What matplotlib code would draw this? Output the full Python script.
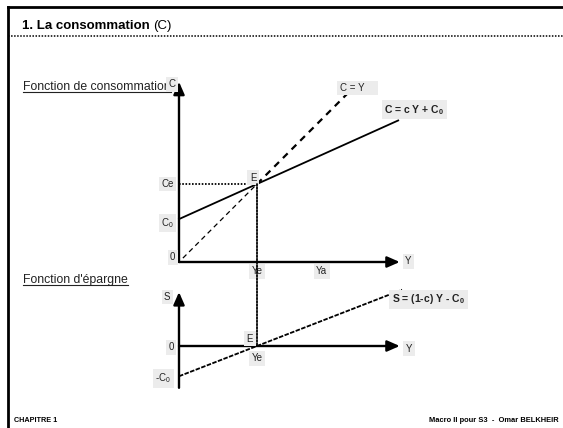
import matplotlib
matplotlib.use('Agg')
import matplotlib.pyplot as plt
from matplotlib.patches import ConnectionPatch

plt.rcParams['font.family'] = ['Liberation Sans', 'DejaVu Sans']
plt.rcParams['mathtext.fontset'] = 'custom'
plt.rcParams['mathtext.rm'] = 'Liberation Sans'
plt.rcParams['mathtext.bf'] = 'Liberation Sans:bold'

# keynesian consumption function
c = 0.45          # propension marginale a consommer
C0 = 55           # consommation autonome
Ye = 100          # revenu d'equilibre
Ya = 183
Ce = c * Ye + C0

y_cons = [0, 281]        # extent of C = cY + C0
y_45_low = [5, Ye]       # C = Y, thin part
y_45_high = [Ye, 217]    # C = Y, heavy part
y_sav = [0, 286]         # extent of S = (1-c)Y - C0
c_axis_top = 231
s_axis = [-76, 98]
y_axis_end = 283

W, H = 563, 428
fig = plt.figure(figsize=(W / 100, H / 100), dpi=100)
bg = fig.add_axes([0, 0, 1, 1])
bg.set_xlim(0, W)
bg.set_ylim(H, 0)
bg.axis('off')

PX = 0.78  # pixels per unit on the Y axis


def overlay(ox, oy, sy):
    ax = fig.add_axes([0, 0, 1, 1], facecolor='none')
    ax.set_xlim(-ox / PX, (W - ox) / PX)
    ax.set_ylim(-(H - oy) / sy, oy / sy)
    ax.axis('off')
    return ax


ax_c = overlay(179, 262, 0.78)
ax_s = overlay(179, 346, 0.55)


def arrow(ax, x0, y0, x1, y1):
    ax.annotate('', xy=(x1, y1), xytext=(x0, y0),
                arrowprops=dict(arrowstyle='-|>,head_length=0.75,head_width=0.33',
                                lw=1.7, color='black', shrinkA=0, shrinkB=0))


def lab(ax, x, y, s, ha='center', bold=False):
    ax.text(x, y, s, ha=ha, va='center', fontsize=7.5 if bold else 7,
            fontweight='bold' if bold else 'normal', color='#222222',
            bbox=dict(boxstyle='square,pad=0.25', fc='#ececec', ec='none'))


# frame of the slide
bg.plot([8, 8], [7, H], color='black', lw=2)
bg.plot([8, W], [7, 7], color='black', lw=2)
bg.plot([8, W], [36, 36], color='black', lw=1.1, ls=(0, (1, 1)))

r = fig.canvas.get_renderer()
t = bg.text(22, 28.5, '1. La consommation', fontsize=9.5, fontweight='bold')
bb = t.get_window_extent(r).transformed(bg.transData.inverted())
bg.text(bb.x1 + 3, 28.5, '(C)', fontsize=9.5)


def underlined(x, y, s):
    t = bg.text(x, y, s, fontsize=8.8, color='#222222')
    bb = t.get_window_extent(r).transformed(bg.transData.inverted())
    bg.plot([bb.x0, bb.x1], [y + 1.5, y + 1.5], color='#222222', lw=0.8)


underlined(23, 90, 'Fonction de consommation')
underlined(23, 283, "Fonction d'épargne")

bg.text(14, 422, 'CHAPITRE 1', fontsize=5.2, fontweight='bold')
bg.text(559, 422, 'Macro II pour S3  -  Omar BELKHEIR', fontsize=5.4,
        fontweight='bold', ha='right')

# --- consumption diagram
arrow(ax_c, 0, 0, 0, c_axis_top)
arrow(ax_c, 0, 0, y_axis_end, 0)
ax_c.plot(y_cons, [c * y + C0 for y in y_cons], color='black', lw=1.3)
ax_c.plot(y_45_low, y_45_low, color='black', lw=0.9, ls=(0, (4, 3)))
ax_c.plot(y_45_high, y_45_high, color='black', lw=1.6, ls=(0, (3, 2.5)))
ax_c.plot([0, Ye], [Ce, Ce], color='black', lw=1.3, ls=(0, (0.9, 0.9)))
fig.add_artist(ConnectionPatch(xyA=(Ye, Ce), coordsA=ax_c.transData,
                               xyB=(Ye, 0), coordsB=ax_s.transData,
                               color='black', lw=1.3, ls=(0, (0.9, 0.9))))

lab(ax_c, -9, 228, 'C')
lab(ax_c, -15, Ce, 'Ce')
lab(ax_c, -15, C0 - 5, r'C$_0$')
lab(ax_c, -8, 6, '0')
lab(ax_c, Ye - 5, Ce + 8, 'E')
lab(ax_c, Ye, -12, 'Ye')
lab(ax_c, Ya, -12, 'Ya')
lab(ax_c, 294, 1, 'Y')
lab(ax_c, 206, 223, 'C = Y    ', ha='left')
lab(ax_c, 263, 195, r'C = c Y + C$_\mathbf{0}$ ', ha='left', bold=True)

# --- savings diagram
arrow(ax_s, 0, s_axis[0], 0, s_axis[1])
arrow(ax_s, 0, 0, y_axis_end, 0)
ax_s.plot(y_sav, [(1 - c) * y - C0 for y in y_sav], color='black', lw=1.3,
          ls=(0, (2.5, 0.8)))

lab(ax_s, -15, 89, 'S')
lab(ax_s, -10, -2, '0')
lab(ax_s, -20, -C0 - 4, r'-C$_0$')
lab(ax_s, Ye - 9, 13, 'E')
lab(ax_s, Ye, -22, 'Ye')
lab(ax_s, 295, -5, 'Y')
lab(ax_s, 273, 85, r'S = (1-c) Y - C$_\mathbf{0}$ ', ha='left', bold=True)

fig.savefig('out.png', dpi=100)
